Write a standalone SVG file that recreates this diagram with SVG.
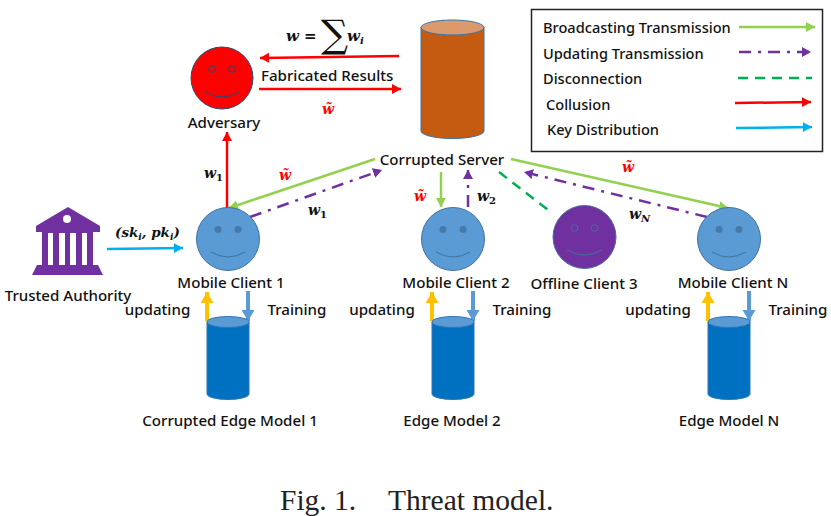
<svg xmlns="http://www.w3.org/2000/svg" width="831" height="516" viewBox="0 0 831 516">
<style>
text{font-family:"Noto Sans","Open Sans","Liberation Sans",sans-serif;font-size:15.100px;fill:#111;font-weight:500}
.l{font-size:14.600px}
.m{font-family:"DejaVu Serif","Liberation Serif",serif;font-style:italic;font-weight:700;font-size:14px;fill:#111}
.n{font-style:normal}
.t{font-family:"DejaVu Serif","Liberation Serif",serif;font-style:italic;font-weight:700;font-size:14px;fill:#f00}
.c{font-family:"Liberation Serif",serif;font-size:29.500px;fill:#222;font-weight:400}
.g{stroke:#92d050;stroke-width:2.5;fill:none}
.p{stroke:#7030a0;stroke-width:2.5;fill:none;stroke-dasharray:12 7 3 7}
.d{stroke:#00b050;stroke-width:2.5;fill:none;stroke-dasharray:10 7}
.r{stroke:#f00;stroke-width:2.5;fill:none}
.b{stroke:#00b0f0;stroke-width:2.5;fill:none}
.face{fill:#5b9bd5;stroke:#41719c;stroke-width:1}
.eye{fill:#41719c;opacity:.8}
.smile{fill:none;stroke:#41719c;stroke-width:1}
.cyl{fill:#0070c0;stroke:#2e75b6;stroke-width:1}
.top{fill:#5b9bd5;stroke:#2e75b6;stroke-width:1}
.u{stroke:#ffc000;stroke-width:4;fill:none}
.tr{stroke:#5b9bd5;stroke-width:4;fill:none}
</style>
<defs>
<marker id="ag" markerUnits="userSpaceOnUse" markerWidth="11" markerHeight="11" refX="9" refY="5" orient="auto"><path d="M0 0L9 5L0 10z" fill="#92d050"/></marker>
<marker id="ap" markerUnits="userSpaceOnUse" markerWidth="11" markerHeight="11" refX="9" refY="5" orient="auto"><path d="M0 0L9 5L0 10z" fill="#7030a0"/></marker>
<marker id="ar" markerUnits="userSpaceOnUse" markerWidth="11" markerHeight="11" refX="9" refY="5" orient="auto"><path d="M0 0L9 5L0 10z" fill="#f00"/></marker>
<marker id="ab" markerUnits="userSpaceOnUse" markerWidth="11" markerHeight="11" refX="9" refY="5" orient="auto"><path d="M0 0L9 5L0 10z" fill="#00b0f0"/></marker>
<marker id="au" markerUnits="userSpaceOnUse" markerWidth="14" markerHeight="14" refX="11" refY="6.5" orient="auto"><path d="M0 0L11 6.5L0 13z" fill="#ffc000"/></marker>
<marker id="at" markerUnits="userSpaceOnUse" markerWidth="14" markerHeight="14" refX="11" refY="6.5" orient="auto"><path d="M0 0L11 6.5L0 13z" fill="#5b9bd5"/></marker>
</defs>

<g id="connectors">
<line class="r" x1="399" y1="56" x2="260" y2="58" marker-end="url(#ar)"/>
<line class="r" x1="259" y1="89" x2="401" y2="89" marker-end="url(#ar)"/>
<line class="r" x1="227" y1="208" x2="227" y2="132" marker-end="url(#ar)"/>
<line class="g" x1="375" y1="159" x2="229" y2="208" marker-end="url(#ag)"/>
<line class="p" x1="250" y1="217" x2="382" y2="170" marker-end="url(#ap)"/>
<line class="g" x1="441" y1="172" x2="441" y2="207" marker-end="url(#ag)"/>
<line class="p" x1="468" y1="207" x2="468" y2="170" marker-end="url(#ap)"/>
<line class="d" x1="499" y1="172" x2="552" y2="213"/>
<line class="g" x1="511" y1="159" x2="728" y2="208" marker-end="url(#ag)"/>
<line class="p" x1="707" y1="217" x2="524" y2="172" marker-end="url(#ap)"/>
<line class="b" x1="107" y1="249" x2="183" y2="248" marker-end="url(#ab)"/>
<line class="u" x1="207" y1="321" x2="207" y2="292" marker-end="url(#au)"/>
<line class="tr" x1="248" y1="291" x2="248" y2="321" marker-end="url(#at)"/>
<line class="u" x1="432" y1="321" x2="432" y2="292" marker-end="url(#au)"/>
<line class="tr" x1="473" y1="291" x2="473" y2="321" marker-end="url(#at)"/>
<line class="u" x1="708" y1="321" x2="708" y2="292" marker-end="url(#au)"/>
<line class="tr" x1="749" y1="291" x2="749" y2="321" marker-end="url(#at)"/>
</g>

<g id="legend">
<rect x="531.500" y="9.500" width="291" height="142" fill="#fff" stroke="#222" stroke-width="1.500"/>
<text class="l" x="543" y="33">Broadcasting Transmission</text>
<text class="l" x="543" y="59">Updating Transmission</text>
<text class="l" x="543" y="84">Disconnection</text>
<text class="l" x="546" y="110">Collusion</text>
<text class="l" x="547" y="135">Key Distribution</text>
<line class="g" x1="739" y1="27" x2="815" y2="27" marker-end="url(#ag)"/>
<line class="p" x1="739" y1="52" x2="811" y2="52" marker-end="url(#ap)"/>
<line class="d" x1="738" y1="78" x2="812" y2="78"/>
<line class="r" x1="735" y1="103" x2="811" y2="102" marker-end="url(#ar)"/>
<line class="b" x1="736" y1="128" x2="812" y2="127" marker-end="url(#ab)"/>
</g>

<g id="adversary">
<circle cx="222" cy="78" r="31" fill="#f00" stroke="#1f4e79" stroke-width="1"/>
<circle cx="212" cy="69" r="3.300" fill="none" stroke="#1f4e79"/>
<circle cx="232" cy="69" r="3.300" fill="none" stroke="#1f4e79"/>
<path d="M205 92Q222 102 239 92" fill="none" stroke="#1f4e79"/>
<text x="224" y="128" text-anchor="middle">Adversary</text>
</g>

<g id="server">
<path d="M421 27.500V131A31.500 7.500 0 0 0 484 131V27.500z" fill="#c55a11" stroke="#2e75b6" stroke-width="1"/>
<ellipse cx="452.500" cy="27.500" rx="31.500" ry="7.500" fill="#dc9a6c" stroke="#2e75b6" stroke-width="1"/>
<text x="442" y="165" text-anchor="middle">Corrupted Server</text>
</g>

<g id="math-labels">
<text x="261" y="81">Fabricated Results</text>
<text class="m" x="286" y="41" style="font-size:15px">w</text>
<text class="m n" x="304" y="41" style="font-size:15px">=</text>
<text class="m n" x="321" y="47" style="font-weight:400;font-size:38px">∑</text>
<text class="m" x="347" y="41" style="font-size:15px">w<tspan dy="3" font-size="10">i</tspan></text>
<text class="t" x="322" y="114">w̃</text>
<text class="t" x="279" y="180">w̃</text>
<text class="t" x="414" y="201">w̃</text>
<text class="t" x="622" y="172">w̃</text>
<text class="m" x="204" y="178">w<tspan dy="3" font-size="10" class="n">1</tspan></text>
<text class="m" x="308" y="215">w<tspan dy="3" font-size="10" class="n">1</tspan></text>
<text class="m" x="477" y="201">w<tspan dy="3" font-size="10" class="n">2</tspan></text>
<text class="m" x="629" y="219">w<tspan dy="3" font-size="10">N</tspan></text>
<text class="m" x="115" y="237" style="font-size:13.500px">(sk<tspan dy="3" font-size="9">i</tspan><tspan dy="-3">, pk</tspan><tspan dy="3" font-size="9">i</tspan><tspan dy="-3">)</tspan></text>
</g>

<g id="authority" fill="#7030a0">
<path d="M68 207L100 226V232H93V265H98L103 275H32L37 265H42V232H36V226z"/>
<path d="M48 233h5v32h-5zM59 233h6v32h-6zM70 233h6v32h-6zM82 233h5v32h-5z" fill="#fff"/>
<circle cx="67" cy="219" r="4" fill="#fff"/>
<text x="68" y="301" text-anchor="middle">Trusted Authority</text>
</g>

<g id="client1">
<circle class="face" cx="228" cy="239" r="31.500"/>
<circle class="eye" cx="218" cy="229.500" r="3.500"/><circle class="eye" cx="238" cy="229.500" r="3.500"/>
<path class="smile" d="M211 252Q228 262 245 252"/>
<text x="231" y="288" text-anchor="middle">Mobile Client 1</text>
<text x="157.500" y="315" text-anchor="middle">updating</text>
<text x="297" y="315" text-anchor="middle">Training</text>
</g>
<g id="model1">
<path class="cyl" d="M207 322V394A21 5.500 0 0 0 249 394V322z"/>
<ellipse class="top" cx="228" cy="322" rx="21" ry="5.500"/>
<text x="230" y="426" text-anchor="middle">Corrupted Edge Model 1</text>
</g>

<g id="client2">
<circle class="face" cx="453" cy="239" r="31.500"/>
<circle class="eye" cx="443" cy="229.500" r="3.500"/><circle class="eye" cx="463" cy="229.500" r="3.500"/>
<path class="smile" d="M436 252Q453 262 470 252"/>
<text x="456" y="288" text-anchor="middle">Mobile Client 2</text>
<text x="382" y="315" text-anchor="middle">updating</text>
<text x="522" y="315" text-anchor="middle">Training</text>
</g>
<g id="model2">
<path class="cyl" d="M432 322V394A21 5.500 0 0 0 474 394V322z"/>
<ellipse class="top" cx="453" cy="322" rx="21" ry="5.500"/>
<text x="452" y="426" text-anchor="middle">Edge Model 2</text>
</g>

<g id="client3">
<circle cx="584.500" cy="237" r="31.500" fill="#7030a0" stroke="#41719c"/>
<circle cx="574.500" cy="228" r="3.300" fill="none" stroke="#41719c"/><circle cx="594.500" cy="228" r="3.300" fill="none" stroke="#41719c"/>
<path class="smile" d="M567 250Q584 260 602 250"/>
<text x="584" y="289" text-anchor="middle">Offline Client 3</text>
</g>

<g id="clientN">
<circle class="face" cx="729" cy="239" r="31.500"/>
<circle class="eye" cx="719" cy="229.500" r="3.500"/><circle class="eye" cx="739" cy="229.500" r="3.500"/>
<path class="smile" d="M712 252Q729 262 746 252"/>
<text x="733" y="288" text-anchor="middle">Mobile Client N</text>
<text x="658" y="315" text-anchor="middle">updating</text>
<text x="798" y="315" text-anchor="middle">Training</text>
</g>
<g id="modelN">
<path class="cyl" d="M708 322V394A21 5.500 0 0 0 750 394V322z"/>
<ellipse class="top" cx="729" cy="322" rx="21" ry="5.500"/>
<text x="729" y="426" text-anchor="middle">Edge Model N</text>
</g>

<g id="caption">
<text class="c" x="280" y="510">Fig. 1.</text>
<text class="c" x="388" y="510">Threat model.</text>
</g>
</svg>
